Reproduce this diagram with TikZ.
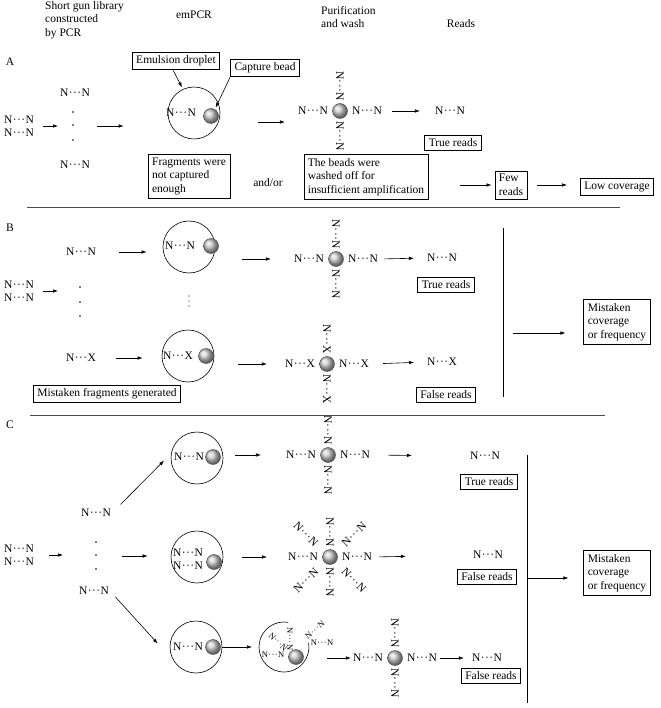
\documentclass[tikz,border=0pt]{standalone}
\usepackage{fontspec}
\setmainfont{Liberation Serif}
\usetikzlibrary{arrows.meta}
\newcommand{\frag}[1]{N\kern.4pt·\kern.4pt·\kern.4pt·\kern.4pt#1} % fragment, #1 = end letter
\tikzset{
    every node/.style={font=\fontsize{11.5}{13.5}\selectfont, inner sep=1pt},
    small/.style={font=\fontsize{8.5}{10}\selectfont, inner sep=0pt},
    arr/.style={-{Latex[length=5pt,width=3.5pt]}, line width=.6pt},
    box/.style={draw, line width=.6pt, align=left, inner xsep=4pt, inner ysep=3.5pt},
    drop/.style={draw, circle, minimum size=52pt, inner sep=0pt, line width=.6pt},
    bead/.style={circle, minimum size=15pt, inner sep=0pt, draw=gray!50!black, line width=.4pt, ball color=gray!40},
    sep/.style={draw=black!70, line width=.8pt},
}
\begin{document}
\begin{tikzpicture}[x=1pt, y=-1pt]
    \useasboundingbox (0,0) rectangle (660,708);
    \def\arm{27} % horizontal distance of the arms from the bead
    \def\varm{25} % vertical distance of the arms from the bead

    % column titles
    \node[align=left, anchor=west] (hLib) at (44,20) {Short gun library\\constructed\\by PCR};
    \node (hEm) at (194,15) {emPCR};
    \node[align=left, anchor=west] (hPur) at (320,17) {Purification\\and wash};
    \node (hReads) at (461,24) {Reads};

    % ---------- A ----------
    \node (labA) at (10,62) {A};
    \node[align=left] (libA) at (19,126) {\frag{N}\\\frag{N}};
    \node (colA-t) at (75,93) {\frag{N}};
    \node (colA-b) at (75,165) {\frag{N}};
    \coordinate (colA) at (73,126);
    \foreach \y in {112,125,140} \fill (73,\y) circle (.9pt);
    \node[drop] (dropA) at (194,113) {};
    \node (dropA-f) at (181,113) {\frag{N}};
    \node[bead] (dropA-b) at (211,116) {};
    \node[box] (emul) at (176,61) {Emulsion droplet};
    \node[box] (capt) at (265,68) {Capture bead};
    \node[bead] (bA) at (340,111) {};
    \node (readA) at (450,111) {\frag{N}};
    \node[box] (trueA) at (453,143) {True reads};
    \node[box] (fragA) at (189,176) {Fragments were\\not captured\\enough};
    \node (andor) at (268,183) {and/or};
    \node[box] (washA) at (366,177) {The beads were\\washed off for\\insufficient amplification};
    \node[box] (fewA) at (511,185) {Few\\reads};
    \node[box] (lowA) at (617,187) {Low coverage};

    % ---------- B ----------
    \node (labB) at (10,228) {B};
    \node[align=left] (libB) at (19,291) {\frag{N}\\\frag{N}};
    \coordinate (colB) at (80,300);
    \foreach \y in {287,302,316} \fill (80,\y) circle (.9pt);
    \node (fragB1) at (81,252) {\frag{N}};
    \node[drop] (dropB1) at (189,247) {};
    \node (dropB1-f) at (180,246) {\frag{N}};
    \node[bead] (dropB1-b) at (211,246) {};
    \foreach \y in {296,301,306} \fill (189,\y) circle (.6pt); % vertical dots
    \node[bead] (bB) at (336,259) {};
    \node (readB1) at (442,258) {\frag{N}};
    \node[box] (trueB) at (446,285) {True reads};
    \node (fragB2) at (81,358) {\frag{X}};
    \node[drop] (dropB2) at (188,356) {};
    \node (dropB2-f) at (178,356) {\frag{X}};
    \node[bead] (dropB2-b) at (206,356) {};
    \node[bead] (bBx) at (327,364) {};
    \node (readB2) at (442,362) {\frag{X}};
    \node[box] (falseB) at (446,395) {False reads};
    \node[box] (mistB) at (107,394) {Mistaken fragments generated};
    \node[box] (covB) at (617,322) {Mistaken\\coverage\\or frequency};
    \coordinate (vBm) at (503,333);

    % ---------- C ----------
    \node (labC) at (10,425) {C};
    \node[align=left] (libC) at (19,555) {\frag{N}\\\frag{N}};
    \node (colC-t) at (96,513) {\frag{N}};
    \node (colC-b) at (94,591) {\frag{N}};
    \coordinate (colC) at (96,556);
    \foreach \y in {542,555,569} \fill (96,\y) circle (.9pt);
    \node[drop] (dropC1) at (197,458) {};
    \node (dropC1-f) at (189,457) {\frag{N}};
    \node[bead] (dropC1-b) at (213,457) {};
    \node[bead] (bC) at (328,455) {};
    \node (readC1) at (485,456) {\frag{N}};
    \node[box] (trueC) at (489,482) {True reads};
    \node[drop] (dropC2) at (197,557) {};
    \node[align=left] (dropC2-f) at (188,559) {\frag{N}\\\frag{N}};
    \node[bead] (dropC2-b) at (214,562) {};
    \node[bead] (bCb) at (330,557) {};
    \foreach \dx/\dy/\r [count=\i] in {-24/23/-45, 24/23/45, -24/-23/45, 24/-23/-45}
        \node[rotate=\r] (bCb-x\i) at ([xshift=\dx, yshift=\dy]bCb) {\frag{N}};
    \node (readC2) at (488,555) {\frag{N}};
    \node[box] (falseC2) at (487,577) {False reads};
    \node[drop] (dropC3) at (196,647) {};
    \node (dropC3-f) at (188,647) {\frag{N}};
    \node[bead] (dropC3-b) at (213,647) {};
    % droplet broken open by the fragments
    \coordinate (dCx) at (284,647);
    \draw[line width=.6pt] (dCx) ++(80:25pt) arc[start angle=80, end angle=370, radius=25pt];
    \node[small] (dCx-f) at (273,655) {\frag{N}};
    \node[small, rotate=-45] (dCx-d) at (278,642) {\frag{N}};
    \node[small, rotate=-90] (dCx-v) at (290,639) {\frag{N}};
    \node[bead] (dCx-b) at (296,657) {};
    \node[small, rotate=40] (dCx-o) at (315,630) {\frag{N}};
    \node[small] (dCx-h) at (322,643) {\frag{N}};
    \node[bead] (bCc) at (395,658) {};
    \node (readC3) at (487,658) {\frag{N}};
    \node[box] (falseC3) at (491,676) {False reads};
    \node[box] (covC) at (617,573) {Mistaken\\coverage\\or frequency};
    \coordinate (vCm) at (527,578);

    % arms round the beads
    \foreach \b/\e in {bA/N, bB/N, bBx/X, bC/N, bCb/N, bCc/N}
    {
        \node (\b-l) at ([xshift=-\arm]\b) {\frag{\e}};
        \node (\b-r) at ([xshift=\arm]\b) {\frag{\e}};
        \node[rotate=-90] (\b-t) at ([yshift=\varm]\b) {\frag{\e}};
        \node[rotate=-90] (\b-d) at ([yshift=-\varm]\b) {\frag{\e}};
    }

    % separators and brackets
    \draw[sep] (27,207) -- (620,207);
    \draw[sep] (30,415) -- (605,415);
    \draw[line width=.6pt] (503,228) -- (503,397);
    \draw[line width=.6pt] (527,455) -- (527,703);

    % arrows A
    \draw[arr, shorten <=8, shorten >=15] (libA.east) -- (libA.east -| colA);
    \draw[arr, shorten <=24, shorten >=44] (colA) -- (colA -| dropA.west);
    \draw[arr, shorten >=2] ([xshift=-3]emul.south) -- (dropA.115);
    \draw[arr, shorten >=2] (capt.south west) -- (dropA-b.60);
    \draw[arr, shorten <=38, shorten >=12] ([yshift=-9]dropA.east) -- ([yshift=-9]dropA.east -| bA-l.west);
    \draw[arr, shorten <=9, shorten >=14] (bA-r.east) -- (readA.west);
    \draw[arr, shorten <=32, shorten >=3] (fewA.west -| washA.east) -- (fewA.west);
    \draw[arr, shorten <=10, shorten >=13] (fewA.east) -- (fewA.east -| lowA.west);

    % arrows B
    \draw[arr, shorten <=8, shorten >=22] (libB.east) -- (libB.east -| colB);
    \draw[arr, shorten <=22, shorten >=16] (fragB1.east) -- (fragB1.east -| dropB1.west);
    \draw[arr, shorten <=27, shorten >=22] (bB-l.west -| dropB1.east) -- (bB-l.west);
    \draw[arr, shorten <=5, shorten >=12] (bB-r.east) -- (readB1.west);
    \draw[arr, shorten <=19, shorten >=19] (fragB2.east) -- (fragB2.east -| dropB2.west);
    \draw[arr, shorten <=24, shorten >=17] (bBx-l.west -| dropB2.east) -- (bBx-l.west);
    \draw[arr, shorten <=13, shorten >=12] (bBx-r.east) -- (readB2.west);
    \draw[arr, shorten <=10, shorten >=18] (vBm) -- (vBm -| covB.west);

    % arrows C
    \draw[arr, shorten <=14, shorten >=33] (libC.east) -- (libC.east -| colC);
    \draw[arr, shorten <=26, shorten >=23] (colC) -- (colC -| dropC2.west);
    \draw[arr, shorten <=12, shorten >=10] (colC-t.east) -- (dropC1.170);
    \draw[arr, shorten <=8, shorten >=25] (colC-b.east) -- (dropC3.215);
    \draw[arr, shorten <=12, shorten >=24] (bC-l.west -| dropC1.east) -- (bC-l.west);
    \draw[arr, shorten <=17, shorten >=57] (bC-r.east) -- (readC1.west);
    \draw[arr, shorten <=19, shorten >=20] (bCb-l.west -| dropC2.east) -- (bCb-l.west);
    \draw[arr, shorten <=6, shorten >=66] (bCb-r.east) -- (readC2.west);
    \draw[arr, shorten >=32] (dropC3.east) -- (dCx);
    \draw[arr, shorten <=43, shorten >=1] (bCc-l.west -| dCx) -- (bCc-l.west);
    \draw[arr, shorten <=2, shorten >=7] (bCc-r.east) -- (readC3.west);
    \draw[arr, shorten >=15] (vCm) -- (vCm -| covC.west);
\end{tikzpicture}
\end{document}
